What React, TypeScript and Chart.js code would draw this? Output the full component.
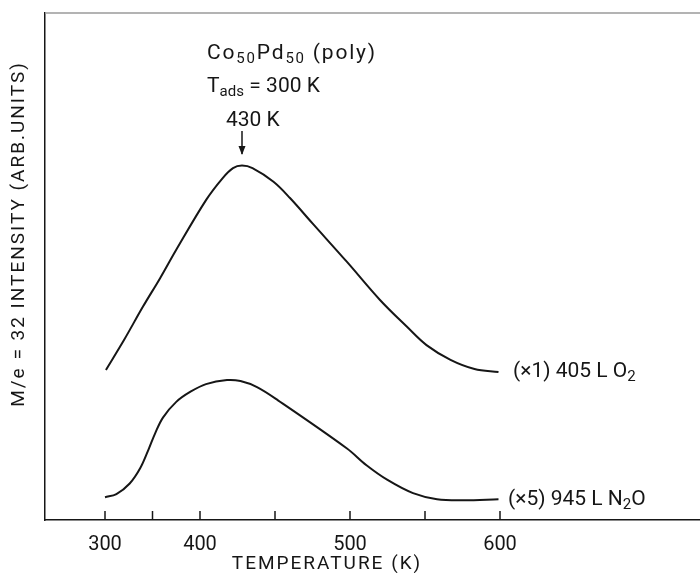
import { useEffect, useRef } from 'react';
import { Chart, registerables } from 'chart.js';
Chart.register(...registerables);

// O2 desorption trace (x1), 405 L O2
const o2Temps = [301, 320, 340, 358, 375, 404, 415, 422, 428, 435, 449, 460, 475, 498, 520, 538, 551, 567, 583, 599];
const o2Values = [2.96, 3.55, 4.21, 4.77, 5.33, 6.31, 6.74, 6.94, 6.99, 6.94, 6.67, 6.35, 5.85, 5.09, 4.34, 3.81, 3.45, 3.16, 2.98, 2.92];
// N2O trace (x5), 945 L N2O
const n2oTemps = [300, 312, 326, 337, 346, 353, 361, 375, 390, 404, 418, 427, 438, 452, 498, 511, 525, 542, 558, 576, 599];
const n2oValues = [0.45, 0.51, 0.72, 1.02, 1.4, 1.72, 2.02, 2.33, 2.53, 2.68, 2.76, 2.74, 2.62, 2.36, 1.41, 1.08, 0.79, 0.53, 0.41, 0.39, 0.41];

const tickTemps = [300, 350, 400, 450, 500, 550, 600];
const labeledTicks = [300, 400, 500, 600];
const peakTemp = 430;

const xTitle = 'TEMPERATURE (K)';
const yTitle = 'M/e = 32 INTENSITY (ARB.UNITS)';

// The original temperature axis is compressed below 400 K (non-linear heating ramp).
const warp = (t: number) => (t >= 400 ? t : 400 - (400 - t) * (0.95 / 1.5));
const unwarp = (v: number) => (v >= 400 ? v : 400 - (400 - v) * (1.5 / 0.95));

const FONT = 'Roboto, "DejaVu Sans", sans-serif';
const INK = '#161616';

type Run = [string, boolean?];
// draws text runs (with subscripts) starting at x, letter-spaced to span `width`
function fitRuns(ctx: CanvasRenderingContext2D, x: number, y: number, runs: Run[], size: number, width: number) {
  const subSize = Math.round(size * 0.72);
  const c = ctx as any;
  c.letterSpacing = '0px';
  ctx.textAlign = 'left';
  ctx.textBaseline = 'alphabetic';
  let natural = 0;
  let chars = 0;
  for (const [t, sub] of runs) {
    ctx.font = `${sub ? subSize : size}px ${FONT}`;
    natural += ctx.measureText(t).width;
    chars += t.length;
  }
  const sp = Math.max(0, (width - natural) / Math.max(1, chars - 1));
  let cx = x;
  for (const [t, sub] of runs) {
    ctx.font = `${sub ? subSize : size}px ${FONT}`;
    for (const ch of t) {
      ctx.fillText(ch, cx, sub ? y + 4 : y);
      cx += ctx.measureText(ch).width + sp;
    }
  }
}

const annotate = {
  id: 'annotate',
  afterDraw(chart: any) {
    const ctx: CanvasRenderingContext2D = chart.ctx;
    const xs = chart.scales.x;
    const area = chart.chartArea;
    ctx.save();
    ctx.fillStyle = INK;

    // top frame line
    ctx.strokeStyle = '#9a9a9a';
    ctx.lineWidth = 1.5;
    ctx.beginPath();
    ctx.moveTo(area.left, area.top);
    ctx.lineTo(area.right, area.top);
    ctx.stroke();

    // inward tick marks
    ctx.strokeStyle = INK;
    ctx.lineWidth = 1.5;
    for (const t of tickTemps) {
      const px = xs.getPixelForValue(warp(t));
      ctx.beginPath();
      ctx.moveTo(px, area.bottom);
      ctx.lineTo(px, area.bottom - 9);
      ctx.stroke();
    }

    // axis titles
    ctx.font = `19px ${FONT}`;
    ctx.textAlign = 'center';
    ctx.textBaseline = 'middle';
    (ctx as any).letterSpacing = '2px';
    ctx.fillText(xTitle, 327, 564);
    ctx.save();
    ctx.translate(19, 234);
    ctx.rotate(-Math.PI / 2);
    ctx.fillText(yTitle, 0, 0);
    ctx.restore();

    // header annotations
    fitRuns(ctx, 207, 59, [['Co'], ['50', true], ['Pd'], ['50', true], [' (poly)']], 21, 168);
    fitRuns(ctx, 207, 92, [['T'], ['ads', true], [' = 300 K']], 21, 113);
    fitRuns(ctx, 226, 126, [['430 K']], 21, 50);

    const pk = xs.getPixelForValue(warp(peakTemp)) - 3;
    ctx.lineWidth = 1.5;
    ctx.beginPath();
    ctx.moveTo(pk, 131);
    ctx.lineTo(pk, 154);
    ctx.stroke();
    ctx.beginPath();
    ctx.moveTo(pk - 3.5, 146);
    ctx.lineTo(pk, 155);
    ctx.lineTo(pk + 3.5, 146);
    ctx.closePath();
    ctx.fill();

    // trace labels
    fitRuns(ctx, 513, 377, [['(×1) 405 L O'], ['2', true]], 21, 115);
    fitRuns(ctx, 508, 505, [['(×5) 945 L N'], ['2', true], ['O']], 21, 135);
    ctx.restore();
  },
};

export default function App() {
  const ref = useRef<HTMLCanvasElement>(null);
  useEffect(() => {
    if (!ref.current) return;
    const chart = new Chart(ref.current, {
      type: 'line',
      data: {
        datasets: [
          {
            label: 'O2',
            data: o2Temps.map((t, i) => ({ x: warp(t), y: o2Values[i] })),
            borderColor: INK,
            borderWidth: 2,
            pointRadius: 0,
            tension: 0.35,
          },
          {
            label: 'N2O',
            data: n2oTemps.map((t, i) => ({ x: warp(t), y: n2oValues[i] })),
            borderColor: INK,
            borderWidth: 2,
            pointRadius: 0,
            tension: 0.35,
          },
        ],
      },
      options: {
        animation: false,
        responsive: false,
        layout: { padding: { top: 13, right: 0, left: 0, bottom: 0 } },
        plugins: { legend: { display: false }, tooltip: { enabled: false } },
        scales: {
          x: {
            type: 'linear',
            min: warp(400) - 155 / 1.5,
            max: 400 + 500 / 1.5,
            border: { display: true, color: INK, width: 1.5 },
            grid: { display: false, drawTicks: false },
            afterBuildTicks: (s: any) => {
              s.ticks = tickTemps.map((t) => ({ value: warp(t) }));
            },
            afterFit: (s: any) => {
              s.height = 53;
            },
            ticks: {
              autoSkip: false,
              maxRotation: 0,
              padding: 13,
              color: INK,
              font: { family: FONT, size: 20 },
              callback: (v: any) => {
                const t = Math.round(unwarp(Number(v)));
                return labeledTicks.includes(t) ? String(t) : '';
              },
            },
          },
          y: {
            type: 'linear',
            min: 0,
            max: 10,
            border: { display: true, color: INK, width: 1.5 },
            grid: { display: false, drawTicks: false },
            ticks: { display: false },
            afterFit: (s: any) => {
              s.width = 45;
            },
          },
        },
      },
      plugins: [annotate],
    });
    return () => chart.destroy();
  }, []);
  return (
    <div style={{ position: 'absolute', left: 0, top: 0, width: 700, height: 573, background: '#fff' }}>
      <canvas ref={ref} width={700} height={573} />
    </div>
  );
}
